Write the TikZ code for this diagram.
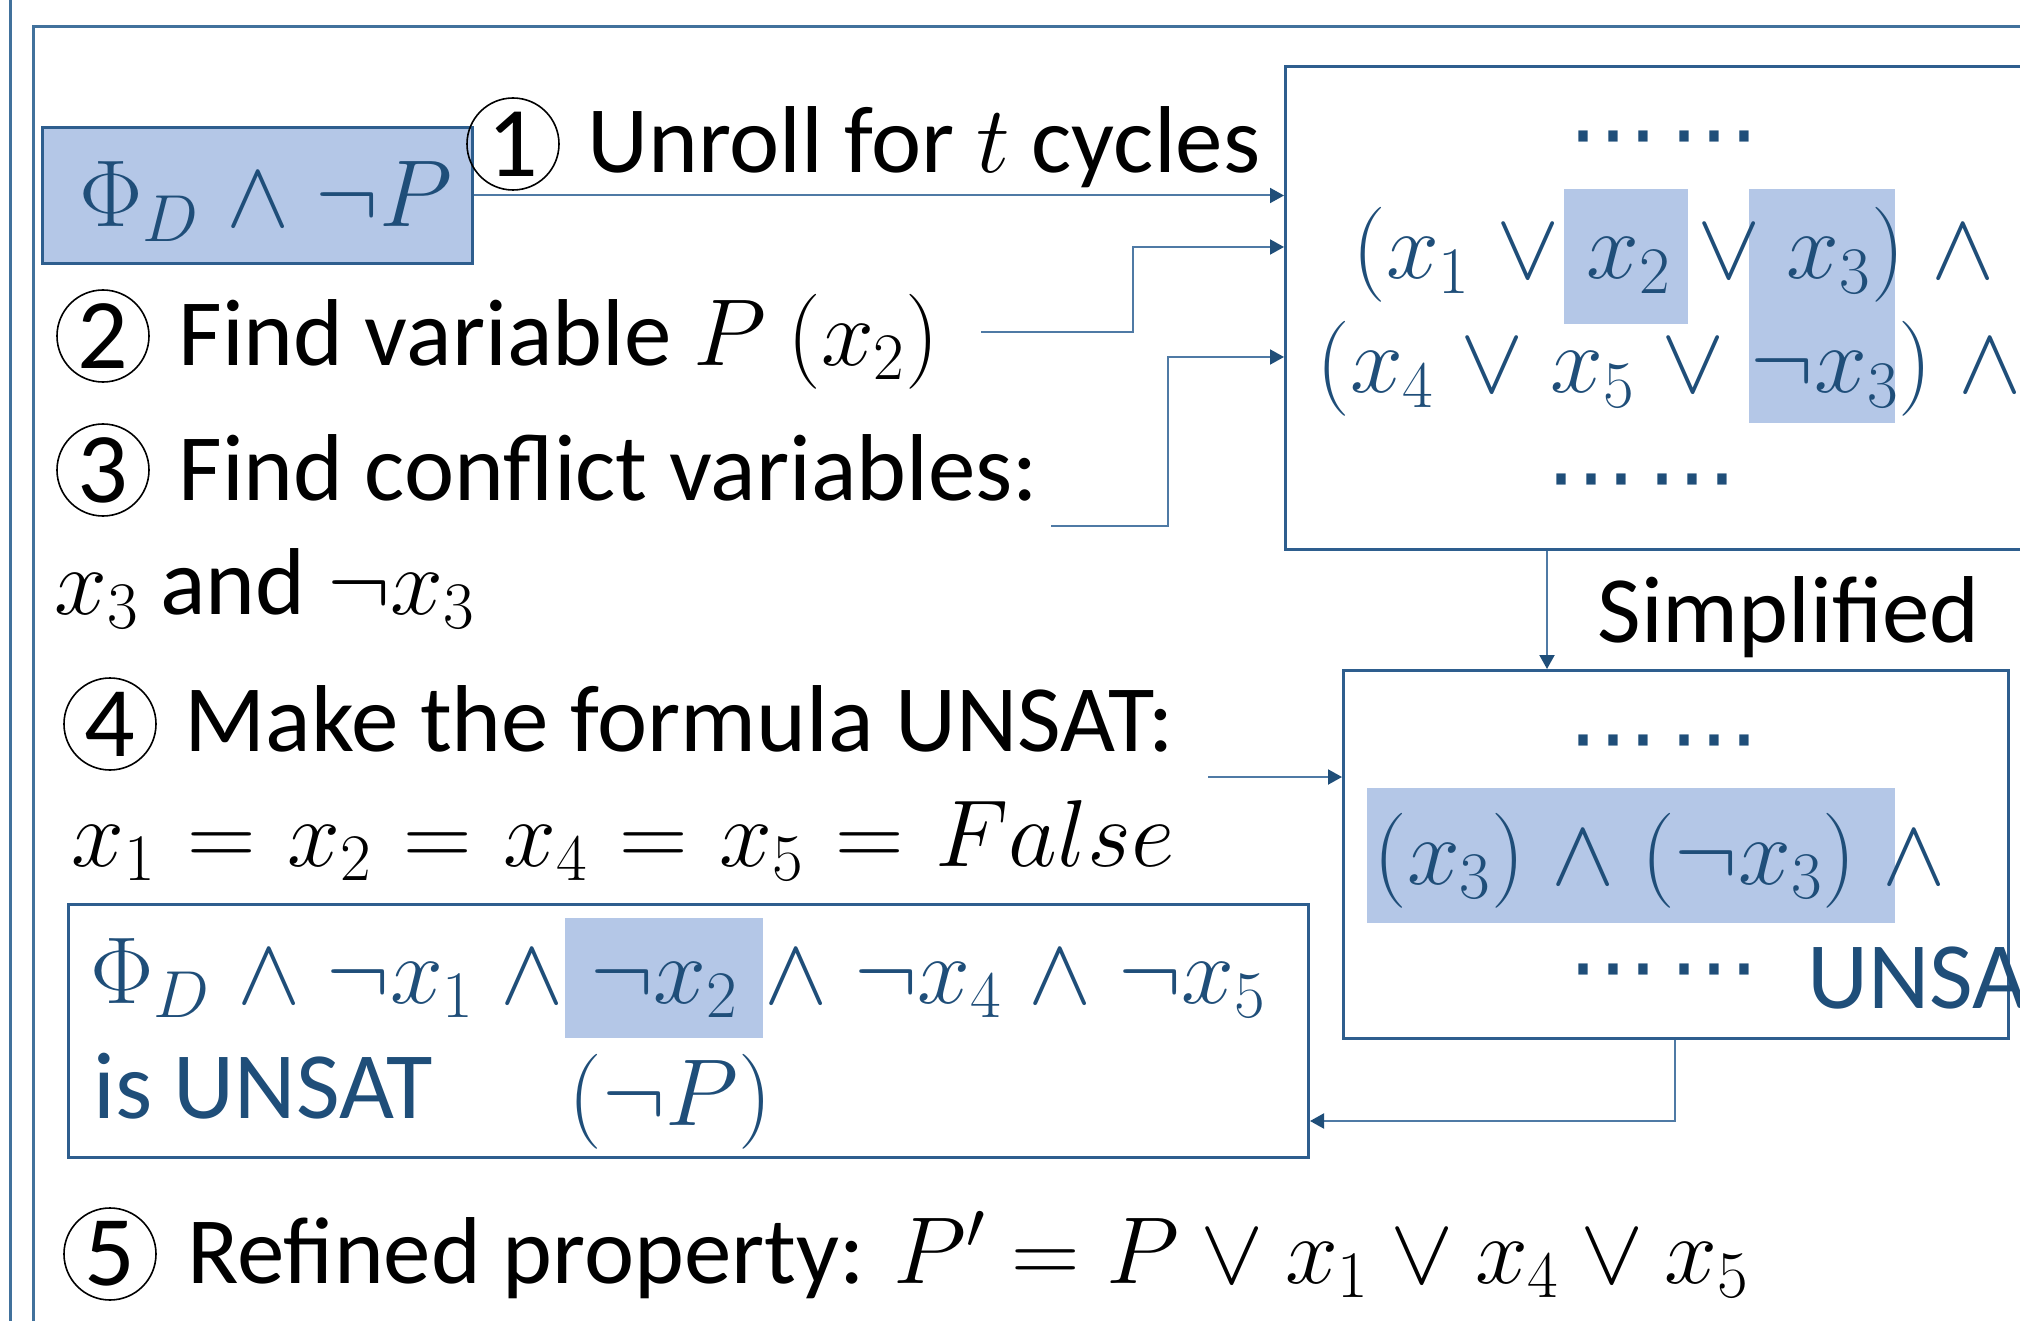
\RequirePackage{fix-cm}
\documentclass[tikz,border=0pt]{standalone}
\usepackage{fontspec}
\setmainfont{Carlito}
\newfontfamily\dvs{DejaVu Sans}
\usetikzlibrary{arrows.meta}
\definecolor{tblue}{HTML}{1F4E79}
\definecolor{bline}{HTML}{2E5E8E}
\definecolor{hfill}{HTML}{B4C7E7}
\definecolor{aline}{HTML}{4F7AA5}
\definecolor{framec}{HTML}{41719C}
\newcommand\mdots{{\dvs\fontsize{45}{50}\selectfont ⋯\kern0.12em⋯}}
\newcommand\tightmath{\medmuskip=4mu plus 2mu minus 4mu\relax\thickmuskip=5mu plus 5mu\relax}
\tikzset{
  txt/.style={anchor=base west, inner sep=0pt, font=\fontsize{47.5}{56}\selectfont},
  btxt/.style={txt, text=tblue},
  dots/.style={btxt, anchor=base},
  num/.style={circle, draw=black, line width=0.8pt, minimum size=46pt, inner sep=0pt, font=\fontsize{50}{56}\selectfont},
  boxed/.style={draw=bline, line width=1.5pt, anchor=north west, inner sep=0pt},
  hl/.style={fill=hfill, draw=none},
  conn/.style={draw=aline, line width=1pt, -{Triangle[length=7pt,width=7.5pt,color=tblue]}},
  framel/.style={draw=framec, line width=1.5pt}
}
\begin{document}
\medmuskip=5mu plus 2mu minus 4mu\relax
\thickmuskip=6mu plus 5mu\relax
\begin{tikzpicture}[x=0.5pt,y=-0.5pt]
\useasboundingbox (0,0) rectangle (2020,1321);
\clip (0,0) rectangle (2020,1321);
\fill[white] (0,0) rectangle (2020,1321);
% frame
\draw[framel] (10,0) -- (10,1321);
\draw[framel] (33,1321) -- (33,27) -- (2020,27);
% boxes
\node[boxed, fill=hfill, minimum width=215pt, minimum height=68pt] (phi) at (41,126) {};
\node[boxed, minimum width=400pt, minimum height=241.5pt] (box1) at (1284,65) {};
\node[boxed, minimum width=332.5pt, minimum height=184pt] (box2) at (1342,669) {};
\node[boxed, minimum width=620pt, minimum height=126.5pt] (box3) at (67,903) {};
% highlights
\path[hl] (1564,189) rectangle (1688,324);
\path[hl] (1749,189) rectangle (1895,423);
\path[hl] (1367,788) rectangle (1895,923);
\path[hl] (565,918) rectangle (763,1038);
% circled numbers
\node[num] (n1) at (513,144) {1};
\node[num] (n2) at (103,336) {2};
\node[num] (n3) at (103,470) {3};
\node[num] (n4) at (110,724) {4};
\node[num] (n5) at (110,1254) {5};
% black texts
\node[txt] (t1) at (587,173) {Unroll for $t$ cycles};
\node[txt] (t2) at (178,365) {Find variable $P$ $(x_2)$};
\node[txt] (t3) at (178,500) {Find conflict variables:};
\node[txt] (t3b) at (54,614) {$x_3$ and $\neg x_3$};
\node[txt] (t4) at (184,751) {Make the formula UNSAT:};
\node[txt] (t4b) at (71,866) {$x_1=x_2=x_4=x_5=False$};
\node[txt] (t5) at (187,1283) {\tightmath Refined property: $P'=P\vee x_1\vee x_4\vee x_5$};
\node[txt] (simp) at (1597,642) {Simplified};
% blue texts
\node[btxt] (phit) at (79,227) {$\Phi_D\wedge\neg P$};
\node[dots] (d1) at (1664,165) {\mdots};
\node[btxt] (l1) at (1352,279) {$(x_1\vee x_2\vee x_3)\wedge{}$};
\node[btxt] (l2) at (1316,393) {$(x_4\vee x_5\vee\neg x_3)\wedge{}$};
\node[dots] (d2) at (1642,507) {\mdots};
\node[dots] (d3) at (1664,768) {\mdots};
\node[btxt] (l3) at (1373,884) {$(x_3)\wedge(\neg x_3)\wedge{}$};
\node[dots] (d4) at (1664,997) {\mdots};
\node[btxt] (uns) at (1807,1008) {UNSAT};
\node[btxt] (l4) at (90,1003) {$\Phi_D\wedge\neg x_1\wedge\neg x_2\wedge\neg x_4\wedge\neg x_5$};
\node[btxt] (l5) at (93,1118) {is UNSAT};
\node[btxt] (l6) at (568,1125) {$(\neg P)$};
% connectors
\coordinate (s2) at (981,332);
\coordinate (s3) at (1051,526);
\coordinate (s5) at (1208,777);
\draw[conn] (phi.east) -- (phi.east -| box1.west);
\draw[conn] (s2) -- (1133,332) -- (1133,247) -- (box1.west |- 0,247);
\draw[conn] (s3) -- (1168,526) -- (1168,357) -- (box1.west |- 0,357);
\draw[conn] (box1.south -| 1547,0) -- (box2.north -| 1547,0);
\draw[conn] (s5) -- (box2.west |- s5);
\draw[conn] (box2.south -| 1675,0) -- (1675,1121) -- (box3.east |- 0,1121);
\end{tikzpicture}
\end{document}
